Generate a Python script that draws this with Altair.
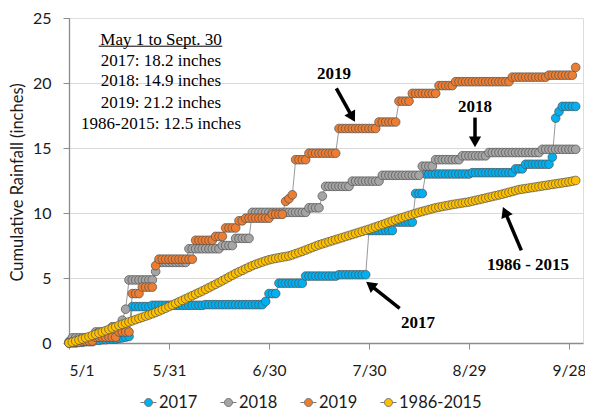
import altair as alt
import pandas as pd

series_names = ["2017", "2018", "2019", "1986-2015"]
series_colors = ["#00B0F0", "#A5A5A5", "#ED7D31", "#FFC000"]
tick_days = [0, 30, 60, 90, 120, 150]
tick_labels = ["5/1", "5/31", "6/30", "7/30", "8/29", "9/28"]
y_ticks = [0, 5, 10, 15, 20, 25]

# cumulative rainfall (inches), one value per day from May 1 (day 0) to Sept 30 (day 152)
rain_2017 = [
    0.0, 0.0, 0.0, 0.05, 0.05, 0.1, 0.1, 0.1, 0.2, 0.2,
    0.25, 0.25, 0.3, 0.3, 0.3, 0.35, 0.4, 0.45, 0.5, 2.8,
    2.8, 2.8, 2.8, 2.8, 2.8, 2.9, 2.9, 2.9, 2.9, 2.9,
    2.9, 2.9, 2.9, 2.9, 2.9, 2.9, 2.9, 2.9, 2.9, 2.9,
    2.9, 2.95, 2.95, 2.95, 2.95, 2.95, 2.95, 2.95, 2.95, 2.95,
    2.95, 2.95, 2.95, 2.95, 2.95, 2.95, 2.95, 2.95, 2.95, 3.2,
    3.8, 3.8, 3.8, 4.6, 4.6, 4.6, 4.6, 4.6, 4.6, 4.6,
    4.6, 5.15, 5.15, 5.15, 5.15, 5.15, 5.15, 5.15, 5.15, 5.15,
    5.15, 5.25, 5.25, 5.25, 5.25, 5.25, 5.25, 5.25, 5.25, 5.25,
    8.65, 8.65, 8.65, 8.65, 8.65, 8.65, 8.65, 8.65, 9.3, 9.3,
    9.3, 9.3, 9.3, 9.3, 11.5, 11.5, 11.5, 13.0, 13.0, 13.0,
    13.0, 13.0, 13.0, 13.0, 13.0, 13.0, 13.0, 13.0, 13.0, 13.0,
    13.0, 13.1, 13.1, 13.1, 13.1, 13.1, 13.1, 13.1, 13.1, 13.1,
    13.1, 13.1, 13.1, 13.1, 13.4, 13.4, 13.4, 13.75, 13.75, 13.75,
    13.75, 13.75, 13.75, 13.75, 13.75, 14.3, 17.3, 17.8, 18.2, 18.2,
    18.2, 18.2, 18.2,
]
rain_2018 = [
    0.1, 0.4, 0.4, 0.4, 0.4, 0.4, 0.4, 0.4, 0.85, 0.85,
    0.85, 0.85, 0.85, 1.25, 1.25, 1.25, 1.75, 2.6, 4.85, 4.85,
    4.85, 4.85, 4.85, 4.85, 4.85, 4.85, 5.5, 6.2, 6.2, 6.2,
    6.2, 6.2, 6.2, 6.2, 6.2, 6.2, 7.25, 7.25, 7.25, 7.25,
    7.25, 7.25, 7.25, 7.25, 7.25, 7.25, 7.5, 7.5, 7.5, 7.5,
    8.05, 8.05, 8.05, 8.05, 8.05, 10.05, 10.05, 10.05, 10.05, 10.05,
    10.05, 10.05, 10.05, 10.05, 10.05, 10.05, 10.05, 10.05, 10.05, 10.05,
    10.05, 10.05, 10.4, 10.4, 10.4, 10.4, 11.3, 12.05, 12.05, 12.05,
    12.05, 12.05, 12.05, 12.05, 12.05, 12.45, 12.45, 12.45, 12.45, 12.45,
    12.45, 12.45, 12.45, 12.45, 12.9, 12.9, 12.9, 12.9, 12.9, 12.9,
    12.9, 12.9, 12.9, 12.9, 12.9, 12.9, 13.6, 13.6, 13.6, 13.6,
    14.1, 14.1, 14.1, 14.1, 14.1, 14.1, 14.1, 14.1, 14.4, 14.4,
    14.4, 14.4, 14.4, 14.4, 14.4, 14.4, 14.65, 14.65, 14.65, 14.65,
    14.65, 14.65, 14.65, 14.65, 14.65, 14.65, 14.65, 14.65, 14.65, 14.65,
    14.65, 14.65, 14.9, 14.9, 14.9, 14.9, 14.9, 14.9, 14.9, 14.9,
    14.9, 14.9, 14.9,
]
rain_2019 = [
    0.0, 0.05, 0.05, 0.05, 0.15, 0.15, 0.15, 0.15, 0.45, 0.45,
    0.45, 0.45, 0.45, 0.45, 0.45, 0.85, 0.85, 0.85, 0.85, 3.8,
    3.8, 3.8, 4.3, 4.3, 4.3, 4.3, 5.95, 6.45, 6.45, 6.45,
    6.45, 6.45, 6.45, 6.45, 6.45, 6.45, 6.45, 6.45, 7.9, 7.9,
    7.9, 7.9, 7.9, 7.9, 8.2, 8.2, 8.2, 8.85, 8.85, 8.85,
    8.85, 9.4, 9.4, 9.6, 9.6, 9.6, 9.6, 9.6, 9.6, 9.6,
    9.6, 9.9, 9.9, 9.9, 9.9, 10.9, 11.1, 11.4, 14.1, 14.1,
    14.1, 14.1, 14.6, 14.6, 14.6, 14.6, 14.6, 14.6, 14.6, 14.6,
    14.6, 16.5, 16.5, 16.5, 16.5, 16.5, 16.5, 16.5, 16.5, 16.5,
    16.5, 16.5, 16.5, 17.0, 17.0, 17.0, 17.0, 17.0, 17.0, 18.6,
    18.6, 18.6, 18.6, 19.2, 19.2, 19.2, 19.2, 19.2, 19.2, 19.2,
    19.2, 19.8, 19.8, 19.8, 19.8, 19.8, 20.1, 20.1, 20.1, 20.1,
    20.1, 20.1, 20.1, 20.1, 20.1, 20.1, 20.1, 20.1, 20.1, 20.1,
    20.1, 20.1, 20.1, 20.45, 20.45, 20.45, 20.45, 20.45, 20.45, 20.45,
    20.45, 20.45, 20.45, 20.45, 20.6, 20.6, 20.6, 20.6, 20.6, 20.6,
    20.6, 20.6, 21.2,
]
rain_avg = [
    0.0, 0.07, 0.15, 0.23, 0.31, 0.4, 0.49, 0.58, 0.67, 0.76,
    0.85, 0.95, 1.05, 1.15, 1.25, 1.35, 1.44, 1.53, 1.62, 1.71,
    1.8, 1.89, 1.98, 2.07, 2.16, 2.25, 2.35, 2.46, 2.57, 2.68,
    2.8, 2.92, 3.04, 3.16, 3.28, 3.4, 3.52, 3.64, 3.76, 3.88,
    4.0, 4.13, 4.26, 4.39, 4.52, 4.65, 4.79, 4.93, 5.07, 5.21,
    5.35, 5.47, 5.59, 5.71, 5.83, 5.95, 6.05, 6.14, 6.23, 6.32,
    6.4, 6.46, 6.51, 6.56, 6.61, 6.65, 6.7, 6.78, 6.87, 6.96,
    7.05, 7.15, 7.25, 7.35, 7.45, 7.55, 7.63, 7.71, 7.79, 7.87,
    7.95, 8.03, 8.11, 8.19, 8.27, 8.35, 8.43, 8.51, 8.59, 8.67,
    8.75, 8.84, 8.93, 9.02, 9.11, 9.2, 9.29, 9.38, 9.47, 9.56,
    9.65, 9.73, 9.81, 9.89, 9.97, 10.05, 10.12, 10.19, 10.26, 10.33,
    10.4, 10.45, 10.5, 10.55, 10.6, 10.65, 10.69, 10.73, 10.77, 10.81,
    10.85, 10.91, 10.97, 11.03, 11.09, 11.15, 11.21, 11.27, 11.33, 11.39,
    11.45, 11.52, 11.59, 11.66, 11.73, 11.8, 11.84, 11.88, 11.92, 11.96,
    12.0, 12.04, 12.08, 12.12, 12.16, 12.2, 12.24, 12.28, 12.32, 12.36,
    12.4, 12.45, 12.5,
]

# summary box
box_lines = ["May 1 to Sept. 30", "2017: 18.2 inches", "2018: 14.9 inches",
             "2019: 21.2 inches", "1986-2015: 12.5 inches"]
box_day = [27.6, 27.6, 27.6, 27.6, 27.6]
box_value = [23.34, 21.68, 20.15, 18.48, 16.83]
underline_day = [8.9]
underline_day2 = [46.0]
underline_value = [22.83]

# series call-outs with arrows
ann_labels = ["2019", "2018", "2017", "1986 - 2015"]
ann_day = [79.5, 121.8, 104.7, 137.7]
ann_value = [20.67, 18.15, 1.53, 5.97]
arrow_tail_day = [80.2, 121.8, 99.2, 135.7]
arrow_tail_value = [19.59, 17.34, 2.66, 7.13]
arrow_head_day = [85.0, 121.8, 90.4, 130.8]
arrow_head_value = [17.37, 15.47, 4.46, 10.09]
arrow_angle = [151, 180, 308, 337]

rows = []
for k, (name, vals) in enumerate(zip(series_names, [rain_2017, rain_2018, rain_2019, rain_avg])):
    for d, v in enumerate(vals):
        rows.append({"series": name, "day": d, "value": v, "k": k})
df = pd.DataFrame(rows)

box_df = pd.DataFrame({"txt": box_lines, "day": box_day, "value": box_value})
ul_df = pd.DataFrame({"day": underline_day, "day2": underline_day2, "value": underline_value})
ann_df = pd.DataFrame({"txt": ann_labels, "day": ann_day, "value": ann_value})
arrow_df = pd.DataFrame({"day": arrow_tail_day, "value": arrow_tail_value,
                         "day2": arrow_head_day, "value2": arrow_head_value})
head_df = pd.DataFrame({"day": arrow_head_day, "value": arrow_head_value, "angle": arrow_angle})

W, H = 514, 325
AXIS_GRAY = "#8c8c8c"
label_arr = "[" + ",".join("'%s'" % t for t in tick_labels) + "]"

xscale = alt.Scale(domain=[0, 154.2], nice=False, zero=False)
yscale = alt.Scale(domain=[0, 25], nice=False)

x_axis = alt.Axis(values=tick_days, labelExpr=label_arr + "[round(datum.value/30)]",
                  grid=False, tickSize=6, tickColor=AXIS_GRAY, domainColor=AXIS_GRAY,
                  domainWidth=1.3, labelPadding=14, labelFont="Lato", labelFontSize=15.5,
                  labelColor="#1a1a1a", title=None)
y_axis = alt.Axis(values=y_ticks, grid=True,
                  gridColor={"condition": {"test": "datum.value == 0 || datum.value == 25",
                                           "value": "transparent"}, "value": "#d9d9d9"},
                  tickSize=6, tickColor=AXIS_GRAY, domainColor=AXIS_GRAY, domainWidth=1.3,
                  labelPadding=12, labelFont="Lato", labelFontSize=16, labelColor="#1a1a1a",
                  title="Cumulative Rainfall (inches)", titleFont="Lato", titleFontSize=16.5,
                  titleFontWeight="normal", titleColor="#1a1a1a", titleAngle=-90,
                  titleX=-52, titleY=164, titleAlign="center", titleBaseline="middle")

X = alt.X("day:Q", scale=xscale, axis=x_axis)
Y = alt.Y("value:Q", scale=yscale, axis=y_axis)

legend_symbol = "M-1,0H-0.5M0.5,0H1M0.5,0A0.5,0.5,0,1,1,-0.5,0A0.5,0.5,0,1,1,0.5,0Z"

lines = alt.Chart(df).mark_line(color="#7f7f7f", strokeWidth=0.8).encode(
    x=X, y=Y, detail="series:N")

points = alt.Chart(df).mark_circle(size=76, opacity=1, stroke="#505050", strokeWidth=0.7).encode(
    x=X, y=Y,
    color=alt.Color("series:N", scale=alt.Scale(domain=series_names, range=series_colors),
                    legend=alt.Legend(orient="none", legendX=71, legendY=376,
                                      direction="horizontal", title=None,
                                      symbolType=legend_symbol, symbolSize=256,
                                      symbolStrokeColor="#6a6a6a", symbolStrokeWidth=0.9,
                                      symbolOpacity=1,
                                      labelFont="Lato", labelFontSize=16.5, labelColor="#1a1a1a",
                                      labelOffset=2, columnPadding=20, padding=0)),
    order=alt.Order("k:Q"))

box_text = alt.Chart(box_df).mark_text(font="Liberation Serif", fontSize=17, color="#000000",
                                       align="center", baseline="middle").encode(
    x=X, y=Y, text="txt:N")
underline = alt.Chart(ul_df).mark_rule(color="#000000", strokeWidth=1).encode(
    x=X, x2="day2:Q", y=Y)

ann_text = alt.Chart(ann_df).mark_text(font="Liberation Serif", fontSize=17, fontWeight="bold",
                                       color="#000000", align="center", baseline="middle").encode(
    x=X, y=Y, text="txt:N")
arrows = alt.Chart(arrow_df).mark_rule(color="#000000", strokeWidth=3.5).encode(
    x=X, y=Y, x2="day2:Q", y2="value2:Q")
heads = alt.Chart(head_df).mark_point(shape="triangle-up", filled=True, size=150,
                                      color="#000000", opacity=1).encode(
    x=X, y=Y, angle=alt.Angle("angle:Q", scale=None))

chart = alt.layer(lines, points, box_text, underline, arrows, heads, ann_text).properties(
    width=W, height=H,
    autosize=alt.AutoSizeParams(type="none"),
    padding={"left": 61, "top": 10, "right": 2, "bottom": 69},
    background="#ffffff",
).configure_view(fill="#f2f2f2", stroke=AXIS_GRAY, strokeWidth=1.3).configure(font="Lato")

chart.save("out.html", embed_options={"renderer": "svg", "actions": False})
